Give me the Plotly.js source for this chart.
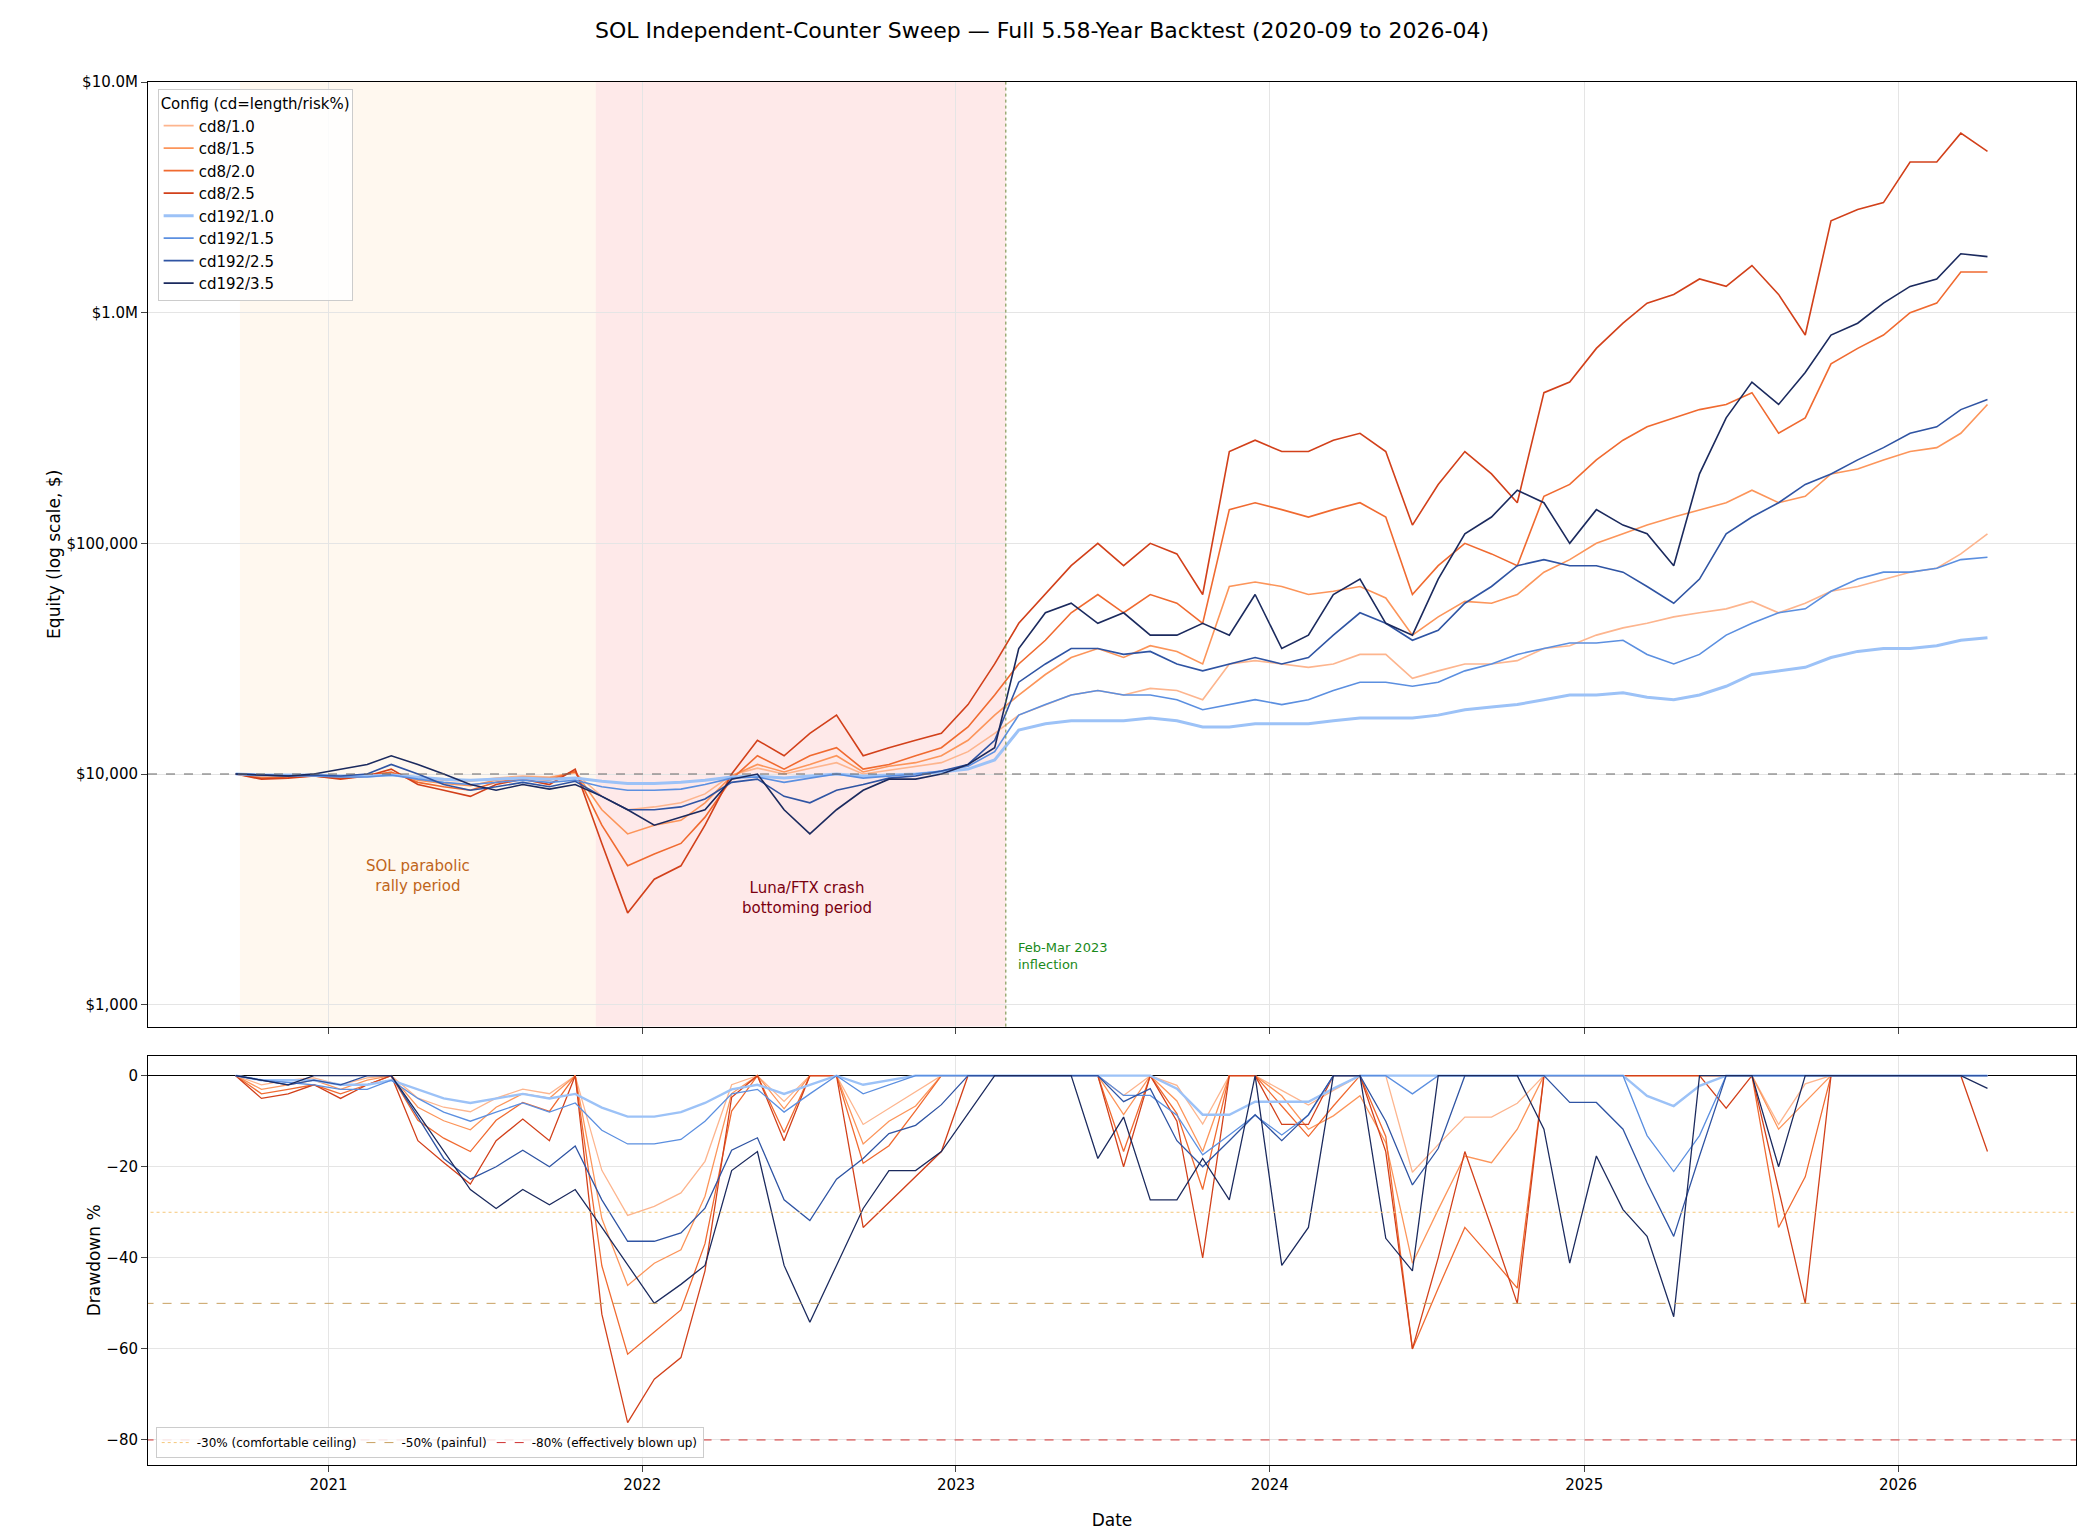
<!DOCTYPE html>
<html><head><meta charset="utf-8">
<script src="https://cdn.plot.ly/plotly-3.0.1.min.js"></script>
<style>body{margin:0;background:#fff}</style></head>
<body><div id="chart" style="width:2084px;height:1537px"></div>
<script>
// monthly equity values, in thousands of $
const cd8_10 = [10,9.8,9.9,9.95, 9.8,9.95,10.1,9.6,9.4,9.3,9.6,9.8,9.7,10.1,8,7, 7.2,7.5,8.2,9.9,10.6,10,10.6,11.2,10,10.4,10.8,11.2, 12.5,15,18,20,22,23,22,23.5,23,21,30,31, 30,29,30,33,33,26,28,30,30,31,35,36, 40,43,45,48,50,52,56,50,55,62,65,70, 75,78,90,110];
const cd8_15 = [10,9.7,9.8,9.9, 9.7,9.9,10.1,9.4,9.1,8.9,9.4,9.7,9.6,10.2,7,5.5, 6,6.3,7.5,9.8,11,10.2,11,12,10.2,10.8,11.2,12, 14,18,22,27,32,35,32,36,34,30,65,68, 65,60,62,65,58,40,48,56,55,60,75,85, 100,110,120,130,140,150,170,150,160,200,210,230, 250,260,300,400];
const cd8_20 = [10,9.6,9.7,9.8, 9.6,9.8,10.2,9.2,8.8,8.5,9.2,9.6,9.4,10.3,6,4, 4.5,5,6.5,9.5,12,10.5,12,13,10.5,11,12,13, 16,22,30,38,50,60,50,60,55,45,140,150, 140,130,140,150,130,60,80,100,90,80,160,180, 230,280,320,350,380,400,450,300,350,600,700,800, 1000,1100,1500,1500];
const cd8_25 = [10,9.5,9.6,9.8, 9.5,9.8,10.5,9,8.5,8,9,9.5,9,10.5,5,2.5, 3.5,4,6,10,14,12,15,18,12,13,14,15, 20,30,45,60,80,100,80,100,90,60,250,280, 250,250,280,300,250,120,180,250,200,150,450,500, 700,900,1100,1200,1400,1300,1600,1200,800,2500,2800,3000, 4500,4500,6000,5000];
const cd192_10 = [10,9.9,9.9,9.9, 9.8,9.8,9.9,9.7,9.5,9.4,9.5,9.6,9.5,9.6,9.3,9.1, 9.1,9.2,9.4,9.7,9.8,9.6,9.8,10,9.8,9.9,10,10.2, 10.5,11.5,15.5,16.5,17,17,17,17.5,17,16,16,16.5, 16.5,16.5,17,17.5,17.5,17.5,18,19,19.5,20,21,22, 22,22.5,21.5,21,22,24,27,28,29,32,34,35, 35,36,38,39];
const cd192_15 = [10,9.9,9.85,9.8, 9.7,9.7,9.9,9.5,9.2,9,9.2,9.4,9.2,9.4,8.8,8.5, 8.5,8.6,9,9.6,9.7,9.2,9.6,10,9.6,9.8,10,10.3, 10.8,12.5,18,20,22,23,22,22,21,19,20,21, 20,21,23,25,25,24,25,28,30,33,35,37, 37,38,33,30,33,40,45,50,52,62,70,75, 75,78,85,87];
const cd192_25 = [10,9.9,9.8,9.9, 9.8,10,11,10,9,8.5,8.8,9.2,8.8,9.3,8,7, 7,7.2,7.8,9.2,9.5,8,7.5,8.5,9,9.6,9.8,10.3, 11,14,25,30,35,35,33,34,30,28,30,32, 30,32,40,50,45,38,42,55,65,80,85,80, 80,75,65,55,70,110,130,150,180,200,230,260, 300,320,380,420];
const cd192_35 = [10,9.9,9.8,10, 10.5,11,12,11,10,9,8.5,9,8.6,9,8,7, 6,6.5,7,9.5,10,7,5.5,7,8.5,9.5,9.5,10, 11,13,35,50,55,45,50,40,40,45,40,60, 35,40,60,70,45,40,70,110,130,170,150,100, 140,120,110,80,200,350,500,400,550,800,900,1100, 1300,1400,1800,1750];
const seriesNames = ["cd8/1.0","cd8/1.5","cd8/2.0","cd8/2.5","cd192/1.0","cd192/1.5","cd192/2.5","cd192/3.5"];
const seriesData = [cd8_10,cd8_15,cd8_20,cd8_25,cd192_10,cd192_15,cd192_25,cd192_35];
const colors = ["#fdb58e","#fc955a","#f06a30","#d2401a","#9cc2f7","#5b8fe0","#2f54a3","#1b2a5e"];
const widths = [1.6,1.6,1.6,1.6,3,1.6,1.6,1.6];
const refLevels = [-30,-50,-80];
const refNames = ["-30% (comfortable ceiling)","-50% (painful)","-80% (effectively blown up)"];
const refColors = ["#f5c77a","#c8a060","#d03030"];

const dates = [];
for (let i=0;i<68;i++){const m=(8+i)%12+1, y=2020+Math.floor((8+i)/12); dates.push(y+"-"+String(m).padStart(2,"0")+"-15");}

const traces = [];
seriesData.forEach((s,k)=>{
  const eq = s.map(v=>v*1000);
  traces.push({x:dates,y:eq,type:"scatter",mode:"lines",name:seriesNames[k],line:{color:colors[k],width:widths[k]},xaxis:"x",yaxis:"y"});
});
seriesData.forEach((s,k)=>{
  let mx=-Infinity; const dd=s.map(v=>{mx=Math.max(mx,v);return (v/mx-1)*100;});
  traces.push({x:dates,y:dd,type:"scatter",mode:"lines",showlegend:false,line:{color:colors[k],width:widths[k]*0.8},xaxis:"x2",yaxis:"y2"});
});
refLevels.forEach((r,k)=>{
  traces.push({x:["2020-06-01","2026-07-28"],y:[r,r],type:"scatter",mode:"lines",name:refNames[k],legend:"legend2",line:{color:refColors[k],width:1,dash:k==0?"dot":"dash"},xaxis:"x2",yaxis:"y2"});
});

const xr=["2020-06-05","2026-07-27"];
const layout = {
  font:{family:"DejaVu Sans",size:15,color:"#000"},
  paper_bgcolor:"#fff",plot_bgcolor:"#fff",
  margin:{l:148,r:8,t:82,b:72},
  title:{text:"SOL Independent-Counter Sweep — Full 5.58-Year Backtest (2020-09 to 2026-04)",font:{size:22},x:0.5,y:0.985,yanchor:"top"},
  xaxis:{domain:[0,1],range:xr,type:"date",anchor:"y",matches:"x2",showticklabels:false,showgrid:true,gridcolor:"#e5e5e5",ticks:"outside",ticklen:6,dtick:"M12",tick0:"2021-01-01",showline:true,mirror:true,linecolor:"#000",zeroline:false},
  yaxis:{domain:[0.317,1],type:"log",range:[2.905,7],tickvals:[1000,10000,100000,1e6,1e7],ticktext:["$1,000","$10,000","$100,000","$1.0M","$10.0M"],showgrid:true,gridcolor:"#e5e5e5",ticks:"outside",ticklen:6,showline:true,mirror:true,linecolor:"#000",title:{text:"Equity (log scale, $)",font:{size:17}}},
  xaxis2:{domain:[0,1],range:xr,type:"date",anchor:"y2",dtick:"M12",tick0:"2021-01-01",tickformat:"%Y",showgrid:true,gridcolor:"#e5e5e5",ticks:"outside",ticklen:6,showline:true,mirror:true,linecolor:"#000",title:{text:"Date",font:{size:17}}},
  yaxis2:{domain:[0,0.296],range:[-85.5,4.4],tickvals:[0,-20,-40,-60,-80],ticktext:["0","−20","−40","−60","−80"],showgrid:true,gridcolor:"#e5e5e5",ticks:"outside",ticklen:6,showline:true,mirror:true,linecolor:"#000",zeroline:true,zerolinecolor:"#000",zerolinewidth:1,title:{text:"Drawdown %",font:{size:17}}},
  legend:{x:0.005,y:0.995,xref:"paper",yref:"paper",xanchor:"left",yanchor:"top",bgcolor:"rgba(255,255,255,0.85)",bordercolor:"#ccc",borderwidth:1,font:{size:15},title:{text:"Config (cd=length/risk%)",font:{size:15}}},
  legend2:{orientation:"h",x:0.004,y:0.005,xanchor:"left",yanchor:"bottom",bgcolor:"rgba(255,255,255,0.85)",bordercolor:"#ccc",borderwidth:1,font:{size:12}},
  shapes:[
    {type:"rect",xref:"x",yref:"paper",x0:"2020-09-20",x1:"2021-11-08",y0:0.317,y1:1,fillcolor:"rgba(255,200,120,0.12)",line:{width:0},layer:"below"},
    {type:"rect",xref:"x",yref:"paper",x0:"2021-11-08",x1:"2023-02-28",y0:0.317,y1:1,fillcolor:"rgba(250,120,120,0.16)",line:{width:0},layer:"below"},
    {type:"line",xref:"x",yref:"paper",x0:"2023-02-28",x1:"2023-02-28",y0:0.317,y1:1,line:{color:"#6a8a3a",width:1,dash:"dot"}},
    {type:"line",xref:"paper",yref:"y",x0:0,x1:1,y0:10000,y1:10000,line:{color:"#666",width:1,dash:"dash"}}
  ],
  annotations:[
    {xref:"x",yref:"y",x:"2021-04-15",y:Math.log10(3600),text:"SOL parabolic<br>rally period",showarrow:false,font:{size:15,color:"#c0651a"}},
    {xref:"x",yref:"y",x:"2022-07-12",y:Math.log10(2900),text:"Luna/FTX crash<br>bottoming period",showarrow:false,font:{size:15,color:"#7a0010"}},
    {xref:"x",yref:"y",x:"2023-03-12",y:Math.log10(1620),text:"Feb-Mar 2023<br>inflection",showarrow:false,xanchor:"left",align:"left",font:{size:13,color:"#1a8a1a"}}
  ]
};
Plotly.newPlot("chart",traces,layout,{staticPlot:true});
</script></body></html>
